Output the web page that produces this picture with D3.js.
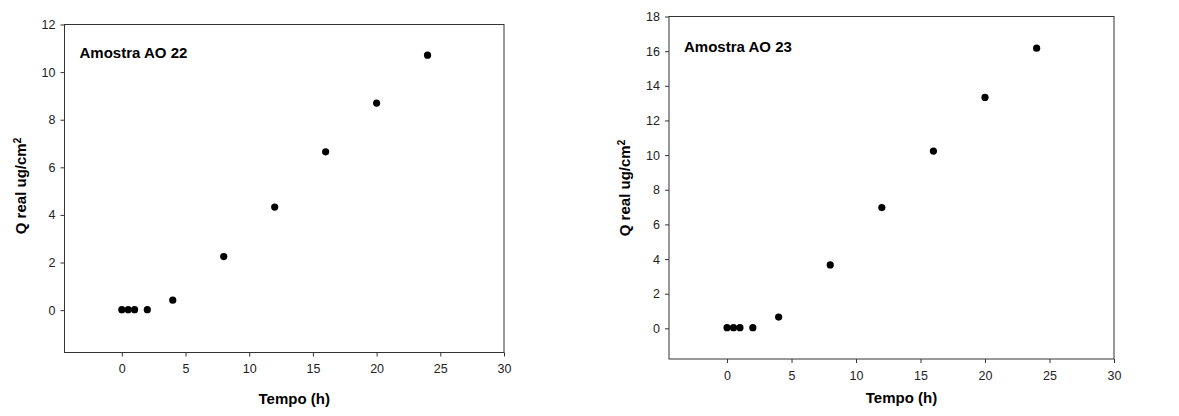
<!DOCTYPE html>
<html>
  <head>
    <style type="text/css">
      body { margin: 0; background: #fff; }
      * { font-family: "Liberation Sans", Arial, sans-serif; }
      .tick text { font-size: 12.5px; fill: #222; }
      .axis path, .axis line { stroke: #333; }
      .frame { fill: none; stroke: #333; stroke-width: 1px; }
      .title { font-size: 15px; font-weight: bold; }
      .label { font-size: 15px; font-weight: bold; }
    </style>
  </head>
  <body>
    <div id="canvas"></div>
    <script src="https://cdnjs.cloudflare.com/ajax/libs/d3/7.8.5/d3.min.js"></script>
    <script type="text/javascript">

    // sampling times (h)
    var tempo = [0, 0.5, 1, 2, 4, 8, 12, 16, 20, 24];
    // Q real ug/cm2 per sample
    var qAO22 = [0.02, 0.02, 0.02, 0.02, 0.42, 2.25, 4.33, 6.65, 8.70, 10.71];
    var qAO23 = [0.04, 0.04, 0.04, 0.04, 0.65, 3.66, 6.97, 10.23, 13.33, 16.17];
    var xTicks = [0, 5, 10, 15, 20, 25, 30];
    var yTicksAO22 = [0, 2, 4, 6, 8, 10, 12];
    var yTicksAO23 = [0, 2, 4, 6, 8, 10, 12, 14, 16, 18];

    var svg = d3.select('#canvas').append('svg')
                .attr('width', 1179)
                .attr('height', 416);

    var drawPanel = function (opt) {
      var x = d3.scaleLinear().domain([-4.5, 30]).range([opt.left, opt.right]);
      var y = d3.scaleLinear().domain([opt.yMin, opt.yMax]).range([opt.bottom, opt.top]);
      var g = svg.append('g');

      g.append('rect').attr('class', 'frame')
        .attr('x', opt.left).attr('y', opt.top)
        .attr('width', opt.right - opt.left).attr('height', opt.bottom - opt.top);

      g.append('g').attr('class', 'axis')
        .attr('transform', 'translate(0,' + opt.bottom + ')')
        .call(d3.axisBottom(x).tickValues(xTicks).tickSize(4).tickPadding(8).tickSizeOuter(0))
        .select('.domain').remove();

      g.append('g').attr('class', 'axis')
        .attr('transform', 'translate(' + opt.left + ',0)')
        .call(d3.axisLeft(y).tickValues(opt.yTicks).tickSize(4).tickPadding(5).tickSizeOuter(0))
        .select('.domain').remove();

      g.selectAll('circle.pt')
        .data(tempo.map(function (t, i) { return {x: t, y: opt.values[i]}; }))
        .enter().append('circle')
          .attr('class', 'pt')
          .attr('r', 3.6)
          .attr('cx', function (d) { return x(d.x); })
          .attr('cy', function (d) { return y(d.y); })
          .attr('fill', '#000');

      g.append('text').attr('class', 'title')
        .attr('x', opt.left + 15).attr('y', opt.titleY)
        .attr('dy', '0.35em')
        .text(opt.title);

      g.append('text').attr('class', 'label')
        .attr('x', (opt.left + opt.right) / 2 + 10).attr('y', opt.xLabelY)
        .attr('text-anchor', 'middle').attr('dy', '0.35em')
        .text('Tempo (h)');

      var yl = g.append('text').attr('class', 'label')
        .attr('transform', 'translate(' + opt.yLabelX + ',' + opt.yLabelY + ') rotate(-90)')
        .attr('text-anchor', 'middle').attr('dy', '0.35em');
      yl.append('tspan').text('Q real ug/cm');
      yl.append('tspan').attr('dy', '-0.5em').style('font-size', '10px').text('2');
    };

    drawPanel({
      left: 64.5, right: 504, top: 24.5, bottom: 352.5,
      yMin: -1.78, yMax: 12, yTicks: yTicksAO22, values: qAO22,
      title: 'Amostra AO 22', titleY: 53, xLabelY: 399, yLabelX: 21, yLabelY: 186
    });

    drawPanel({
      left: 669, right: 1114, top: 16.5, bottom: 359,
      yMin: -1.77, yMax: 18, yTicks: yTicksAO23, values: qAO23,
      title: 'Amostra AO 23', titleY: 47, xLabelY: 398, yLabelX: 625, yLabelY: 188
    });
    </script>
  </body>
</html>
